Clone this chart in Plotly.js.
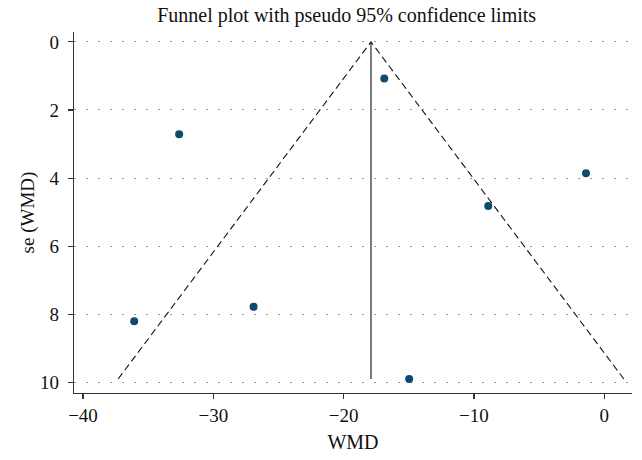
<!DOCTYPE html>
<html>
<head>
<meta charset="utf-8">
<script src="https://cdn.plot.ly/plotly-3.0.1.min.js"></script>
<style>html,body{margin:0;padding:0;background:#fff;}#chart{width:642px;height:460px;}</style>
</head>
<body>
<div id="chart"></div>
<script>
// Study estimates (WMD) and their standard errors
const wmd = [-16.88, -32.62, -1.40, -8.90, -26.91, -36.07, -14.97];
const seWmd = [1.075, 2.71, 3.86, 4.82, 7.78, 8.20, 9.90];
// Pooled (fixed-effect) estimate used as funnel centre
const pooled = [-17.9];
const z95 = 1.96;
const xTicks = [-40, -30, -20, -10, 0];
const yTicks = [0, 2, 4, 6, 8, 10];

const c = pooled[0];
const seMax = Math.max(...seWmd);

const serif = "Liberation Serif, Times New Roman, serif";

const traces = [
  {
    x: [c - z95 * seMax, c, c + z95 * seMax],
    y: [seMax, 0, seMax],
    mode: 'lines',
    line: {color: '#111', width: 1.1, dash: '7px,4px'},
    hoverinfo: 'skip', showlegend: false
  },
  {
    x: [c, c],
    y: [0, seMax],
    mode: 'lines',
    line: {color: '#111', width: 1.1},
    hoverinfo: 'skip', showlegend: false
  },
  {
    x: wmd, y: seWmd,
    mode: 'markers',
    marker: {color: '#0d4a70', size: 8},
    showlegend: false
  }
];

const layout = {
  width: 642, height: 460,
  margin: {l: 74, r: 10, t: 32, b: 67},
  paper_bgcolor: '#fff', plot_bgcolor: '#fff',
  font: {family: serif, size: 19, color: '#111'},
  title: {
    text: 'Funnel plot with pseudo 95% confidence limits',
    font: {family: serif, size: 20, color: '#111'},
    x: 0.54, xanchor: 'center', y: 0.967, yanchor: 'middle'
  },
  xaxis: {
    range: [-40.69, 2.13],
    tickvals: xTicks,
    ticktext: xTicks.map(v => v < 0 ? '\u2212' + Math.abs(v) : String(v)),
    ticks: 'outside', ticklen: 5, tickwidth: 1.2, tickcolor: '#333',
    showline: true, linecolor: '#333', linewidth: 1.3, mirror: false,
    showgrid: false, zeroline: false,
    tickfont: {family: serif, size: 19, color: '#111'},
    title: {text: 'WMD', font: {family: serif, size: 20, color: '#111'}, standoff: 10}
  },
  yaxis: {
    range: [10.31, -0.29],
    tickvals: yTicks,
    ticks: 'outside', ticklen: 5, tickwidth: 1.2, tickcolor: '#333',
    showline: true, linecolor: '#333', linewidth: 1.3, mirror: false,
    showgrid: true, gridcolor: '#999', gridwidth: 1, griddash: '2px,10px',
    zeroline: false, ticklabelstandoff: 5,
    tickfont: {family: serif, size: 19, color: '#111'},
    title: {text: 'se (WMD)', font: {family: serif, size: 19, color: '#111'}, standoff: 0}
  }
};

Plotly.newPlot('chart', traces, layout, {displayModeBar: false, staticPlot: true});
</script>
</body>
</html>
